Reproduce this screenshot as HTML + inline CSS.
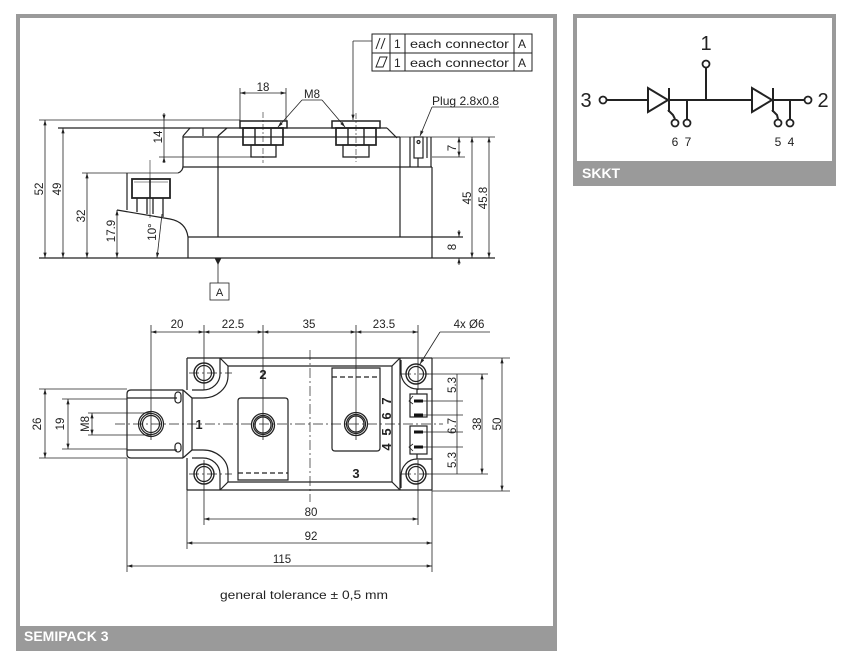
<!DOCTYPE html>
<html><head><meta charset="utf-8"><style>
html,body{margin:0;padding:0;background:#fff;}
svg{display:block;}
text{font-family:"Liberation Sans",Arial,sans-serif;fill:#222;}
</style></head><body>
<svg width="845" height="659" viewBox="0 0 845 659" xmlns="http://www.w3.org/2000/svg">
<defs>
<marker id="a" viewBox="0 0 10 6" refX="10" refY="3" markerWidth="6" markerHeight="3.2" orient="auto-start-reverse" markerUnits="userSpaceOnUse"><path d="M0,0 L10,3 L0,6z" fill="#222"/></marker>
</defs>
<rect x="0" y="0" width="845" height="659" fill="#fff"/>
<!-- panels -->
<rect x="18" y="16" width="537" height="633" fill="#fff" stroke="#9a9a9a" stroke-width="4"/>
<rect x="16" y="626" width="541" height="25" fill="#9a9a9a"/>
<text x="24" y="641" style="font-size:14px;font-weight:bold;fill:#fff">SEMIPACK 3</text>
<rect x="575" y="16" width="259" height="168" fill="#fff" stroke="#9a9a9a" stroke-width="4"/>
<rect x="573" y="161" width="263" height="25" fill="#9a9a9a"/>
<text x="582" y="178" style="font-size:14px;font-weight:bold;fill:#fff">SKKT</text>

<!-- SKKT circuit -->
<g stroke="#222" stroke-width="2" fill="none">
<line x1="607" y1="100" x2="804" y2="100"/>
<line x1="706" y1="68" x2="706" y2="100"/>
<polygon points="648,88 648,112 668,100" fill="#fff"/>
<line x1="669" y1="88" x2="669" y2="112"/>
<polyline points="668,110 673,115 675,119"/>
<line x1="687" y1="100" x2="687" y2="119"/>
<polygon points="752,88 752,112 772,100" fill="#fff"/>
<line x1="773" y1="88" x2="773" y2="112"/>
<polyline points="772,110 777,115 778,119"/>
<line x1="790" y1="100" x2="790" y2="119"/>
<g fill="#fff" stroke-width="1.8">
<circle cx="603" cy="100" r="3.5"/><circle cx="808" cy="100" r="3.5"/><circle cx="706" cy="64" r="3.5"/>
<circle cx="675" cy="123" r="3.5"/><circle cx="687" cy="123" r="3.5"/>
<circle cx="778" cy="123" r="3.5"/><circle cx="790" cy="123" r="3.5"/>
</g>
</g>
<g style="font-size:20px" text-anchor="middle">
<text x="706" y="50">1</text><text x="586" y="107">3</text><text x="823" y="107">2</text>
</g>
<g style="font-size:12px" text-anchor="middle">
<text x="675" y="146">6</text><text x="688" y="146">7</text><text x="778" y="146">5</text><text x="791" y="146">4</text>
</g>

<!-- ===== SIDE VIEW ===== -->
<g stroke="#222" stroke-width="1.2" fill="none">
<line x1="39" y1="120" x2="240" y2="120" stroke-width="0.8"/>
<line x1="58" y1="128" x2="387" y2="128"/>
<line x1="183" y1="136" x2="190" y2="128"/>
<line x1="218" y1="136" x2="227" y2="128"/>
<line x1="387" y1="128" x2="397" y2="138"/>
<line x1="203" y1="128" x2="203" y2="136"/>
<line x1="183" y1="137" x2="400" y2="137"/>
<line x1="400" y1="137" x2="495" y2="137" stroke-width="0.8"/>
<path d="M183,136 V166 Q183,171 178,173"/>
<line x1="82" y1="173" x2="178" y2="173" stroke-width="0.8"/>
<line x1="183" y1="167" x2="432" y2="167"/>
<line x1="218" y1="136" x2="218" y2="237"/>
<line x1="400" y1="137" x2="400" y2="237"/>
<line x1="432" y1="167" x2="432" y2="258"/>
<line x1="410" y1="137" x2="410" y2="167"/>
<line x1="427" y1="137" x2="427" y2="158"/>
<line x1="431" y1="137" x2="431" y2="167"/>
<rect x="414" y="137" width="9" height="21"/>
<circle cx="418.5" cy="142" r="1.5"/>
<line x1="418" y1="158" x2="418" y2="167"/>
<line x1="127" y1="173" x2="127" y2="210"/>
<path d="M117,210 L170,219 Q186,222 188,237 V258"/>
<line x1="188" y1="237" x2="463" y2="237"/>
<line x1="39" y1="258" x2="495" y2="258" stroke-width="1.3"/>
<rect x="132" y="179" width="38" height="19" stroke-width="1.8"/>
<line x1="150" y1="179" x2="150" y2="198" stroke-width="1.6"/>
<line x1="134" y1="182" x2="168" y2="182" stroke-width="0.6"/>
<line x1="137" y1="198" x2="137" y2="212" stroke-width="1.3"/>
<line x1="147" y1="198" x2="147" y2="214" stroke-width="1.3"/>
<line x1="153" y1="198" x2="153" y2="214" stroke-width="1.3"/>
<line x1="163" y1="198" x2="163" y2="217" stroke-width="1.3"/>
<line x1="150" y1="160" x2="150" y2="218" stroke-width="0.6"/>
<rect x="240" y="121" width="47" height="7" stroke-width="1.5"/>
<rect x="243" y="128" width="40" height="17" stroke-width="1.7"/>
<line x1="255" y1="128" x2="255" y2="145" stroke-width="1.4"/>
<line x1="271" y1="128" x2="271" y2="145" stroke-width="1.4"/>
<rect x="251" y="145" width="25" height="12" stroke-width="1.3"/>
<line x1="263" y1="112" x2="263" y2="163" stroke-width="0.6" stroke-dasharray="6,2,2,2"/>
<rect x="332" y="121" width="48" height="7" stroke-width="1.5"/>
<rect x="336" y="128" width="40" height="17" stroke-width="1.7"/>
<line x1="348" y1="128" x2="348" y2="145" stroke-width="1.4"/>
<line x1="364" y1="128" x2="364" y2="145" stroke-width="1.4"/>
<rect x="343" y="145" width="26" height="12" stroke-width="1.3"/>
<line x1="356" y1="113" x2="356" y2="162" stroke-width="0.6" stroke-dasharray="6,2,2,2"/>
<line x1="159" y1="157" x2="251" y2="157" stroke-width="0.8"/>
<line x1="164" y1="113" x2="164" y2="120" stroke-width="0.8" marker-end="url(#a)"/>
<line x1="164" y1="163" x2="164" y2="157" stroke-width="0.8" marker-end="url(#a)"/>
<line x1="164" y1="120" x2="164" y2="157" stroke-width="0.8"/>
</g>
<g stroke="#222" stroke-width="0.8" fill="none" marker-start="url(#a)" marker-end="url(#a)">
<line x1="45" y1="120" x2="45" y2="258"/>
<line x1="63" y1="128" x2="63" y2="258"/>
<line x1="87" y1="173" x2="87" y2="258"/>
<line x1="117" y1="210" x2="117" y2="258"/>
<line x1="240" y1="93" x2="286" y2="93"/>
<line x1="472" y1="137" x2="472" y2="258"/>
<line x1="489" y1="137" x2="489" y2="258"/>
<line x1="459" y1="137" x2="459" y2="157"/>
</g>
<g stroke="#222" stroke-width="0.8" fill="none">
<line x1="157" y1="258" x2="162" y2="214" marker-start="url(#a)"/>
<line x1="240" y1="88" x2="240" y2="121"/>
<line x1="286" y1="88" x2="286" y2="121"/>
<line x1="432" y1="157" x2="465" y2="157"/>
<line x1="459" y1="230" x2="459" y2="237" marker-end="url(#a)"/>
<line x1="459" y1="265" x2="459" y2="258" marker-end="url(#a)"/>
<line x1="302" y1="100" x2="278" y2="127" marker-end="url(#a)"/>
<line x1="302" y1="100" x2="322" y2="100"/>
<line x1="322" y1="100" x2="345" y2="127" marker-end="url(#a)"/>
<line x1="372" y1="41" x2="353" y2="41"/>
<line x1="353" y1="41" x2="353" y2="120" marker-end="url(#a)"/>
<line x1="432" y1="107" x2="499" y2="107"/>
<line x1="432" y1="107" x2="420" y2="136" marker-end="url(#a)"/>
<line x1="218" y1="264" x2="218" y2="283"/>
<rect x="210" y="283" width="19" height="17"/>
</g>
<polygon points="214.5,258 221.5,258 218,265" fill="#222"/>
<!-- FCF -->
<g stroke="#222" stroke-width="1" fill="none">
<rect x="372" y="34" width="160" height="37"/>
<line x1="372" y1="53" x2="532" y2="53"/>
<line x1="390" y1="34" x2="390" y2="71"/>
<line x1="405" y1="34" x2="405" y2="71"/>
<line x1="514" y1="34" x2="514" y2="71"/>
<line x1="376" y1="49" x2="380" y2="38"/>
<line x1="381" y1="49" x2="385" y2="38"/>
<polygon points="376,67 380,57 387,57 383,67"/>
</g>
<g style="font-size:12px">
<text x="394" y="48">1</text><text x="394" y="67">1</text>
<text x="410" y="48" textLength="99" lengthAdjust="spacingAndGlyphs">each connector</text>
<text x="410" y="67" textLength="99" lengthAdjust="spacingAndGlyphs">each connector</text>
<text x="518" y="48">A</text><text x="518" y="67">A</text>
<text x="432" y="105" textLength="67" lengthAdjust="spacingAndGlyphs">Plug 2.8x0.8</text>
<text x="219.5" y="296" text-anchor="middle" style="font-size:11px">A</text>
</g>
<g style="font-size:11.5px" text-anchor="middle">
<text x="263" y="91">18</text>
<text x="312" y="98">M8</text>
<text transform="translate(43,189) rotate(-90)">52</text>
<text transform="translate(61,189) rotate(-90)">49</text>
<text transform="translate(85,216) rotate(-90)">32</text>
<text transform="translate(115,231) rotate(-90)">17.9</text>
<text transform="translate(156,232) rotate(-90)">10°</text>
<text transform="translate(162,137) rotate(-90)">14</text>
<text transform="translate(456,148) rotate(-90)">7</text>
<text transform="translate(456,247) rotate(-90)">8</text>
<text transform="translate(471,198) rotate(-90)">45</text>
<text transform="translate(487,198) rotate(-90)">45.8</text>
</g>

<!-- ===== TOP VIEW ===== -->
<g stroke="#222" stroke-width="1.2" fill="none">
<line x1="187" y1="358" x2="432" y2="358"/>
<line x1="187" y1="490" x2="432" y2="490"/>
<line x1="187" y1="358" x2="187" y2="390"/>
<line x1="187" y1="458" x2="187" y2="490"/>
<line x1="432" y1="358" x2="432" y2="490"/>
<line x1="228" y1="366" x2="392" y2="366"/>
<line x1="228" y1="482" x2="392" y2="482"/>
<line x1="400" y1="358" x2="400" y2="490"/>
<line x1="392" y1="366" x2="392" y2="482"/>
<line x1="392" y1="366" x2="400" y2="358"/>
<line x1="392" y1="482" x2="400" y2="490"/>
<line x1="220" y1="358" x2="228" y2="366"/>
<line x1="220" y1="490" x2="228" y2="482"/>
<path d="M220,358 V374 A17,16 0 0 1 203,390 H192"/>
<path d="M228,366 V376 A25,22 0 0 1 203,398 H192"/>
<path d="M220,490 V474 A17,16 0 0 0 203,458 H192"/>
<path d="M228,482 V472 A25,22 0 0 0 203,450 H192"/>
<line x1="183" y1="390" x2="183" y2="458"/>
<line x1="192" y1="398" x2="192" y2="450"/>
<line x1="183" y1="390" x2="192" y2="398"/>
<line x1="183" y1="458" x2="192" y2="450"/>
<path d="M183,390 H131 Q127,390 127,394 V454 Q127,458 131,458 H183"/>
<line x1="127" y1="398" x2="177" y2="398" stroke-width="1.3"/>
<line x1="127" y1="450" x2="177" y2="450" stroke-width="1.3"/>
<rect x="175" y="392" width="6" height="11" rx="3"/>
<rect x="175" y="443" width="6" height="9" rx="3"/>
<circle cx="151" cy="424" r="12.5"/><circle cx="151" cy="424" r="10.5"/><circle cx="151" cy="424" r="8.5"/>
<path d="M401,360 V372 A16,17 0 0 0 417,389 H432"/>
<path d="M401,488 V476 A16,17 0 0 1 417,459 H432"/>
<line x1="417" y1="389" x2="417" y2="394"/>
<line x1="417" y1="454" x2="417" y2="459"/>
<rect x="410" y="394" width="17" height="23"/>
<rect x="410" y="426" width="17" height="28"/>
<polyline points="413,396 409,401 413,404" stroke-width="0.8"/>
<polyline points="413,444 409,447 413,451" stroke-width="0.8"/>
<circle cx="204" cy="373" r="10" stroke-width="1.4"/><circle cx="204" cy="373" r="7.5"/>
<circle cx="204" cy="474" r="10" stroke-width="1.4"/><circle cx="204" cy="474" r="7.5"/>
<circle cx="416" cy="374" r="10" stroke-width="1.4"/><circle cx="416" cy="374" r="7.5"/>
<circle cx="416" cy="474" r="10" stroke-width="1.4"/><circle cx="416" cy="474" r="7.5"/>
<path d="M238,480 V401 Q238,398 241,398 H285 Q288,398 288,401 V480 Z"/>
<line x1="238" y1="473" x2="288" y2="473" stroke-dasharray="5,3"/>
<circle cx="263" cy="425" r="11.5" stroke-width="1.3"/><circle cx="263" cy="425" r="9.5"/><circle cx="263" cy="425" r="8"/>
<path d="M332,368 V448 Q332,451 335,451 H377 Q380,451 380,448 V368 Z"/>
<line x1="332" y1="377" x2="380" y2="377" stroke-dasharray="5,3"/>
<circle cx="356" cy="424" r="11.5" stroke-width="1.3"/><circle cx="356" cy="424" r="9.5"/><circle cx="356" cy="424" r="8"/>
</g>
<g stroke="#111" stroke-width="3">
<line x1="414" y1="401" x2="423" y2="401"/><line x1="414" y1="415" x2="423" y2="415"/>
<line x1="414" y1="432" x2="423" y2="432"/><line x1="414" y1="447" x2="423" y2="447"/>
</g>
<g stroke="#222" stroke-width="0.7" fill="none" stroke-dasharray="10,3,2,3">
<line x1="115" y1="424" x2="443" y2="424"/>
<line x1="310" y1="350" x2="310" y2="502"/>
<line x1="189" y1="373" x2="232" y2="373"/>
<line x1="189" y1="474" x2="232" y2="474"/>
<line x1="401" y1="374" x2="432" y2="374"/>
<line x1="401" y1="474" x2="432" y2="474"/>
</g>
<g stroke="#222" stroke-width="0.8" fill="none">
<line x1="151" y1="325" x2="151" y2="440"/>
<line x1="204" y1="325" x2="204" y2="390"/>
<line x1="204" y1="460" x2="204" y2="525"/>
<line x1="263" y1="325" x2="263" y2="440"/>
<line x1="356" y1="325" x2="356" y2="440"/>
<line x1="418" y1="325" x2="418" y2="390"/>
<line x1="418" y1="460" x2="418" y2="525"/>
<line x1="127" y1="458" x2="127" y2="572"/>
<line x1="187" y1="490" x2="187" y2="549"/>
<line x1="432" y1="490" x2="432" y2="572"/>
<line x1="39" y1="389" x2="127" y2="389"/>
<line x1="39" y1="458" x2="127" y2="458"/>
<line x1="62" y1="399" x2="127" y2="399"/>
<line x1="62" y1="449" x2="127" y2="449"/>
<line x1="88" y1="413" x2="151" y2="413"/>
<line x1="88" y1="435" x2="151" y2="435"/>
<line x1="432" y1="358" x2="510" y2="358"/>
<line x1="432" y1="491" x2="510" y2="491"/>
<line x1="426" y1="374" x2="488" y2="374"/>
<line x1="426" y1="474" x2="488" y2="474"/>
<line x1="423" y1="401" x2="463" y2="401"/>
<line x1="423" y1="415" x2="463" y2="415"/>
<line x1="423" y1="432" x2="463" y2="432"/>
<line x1="423" y1="447" x2="463" y2="447"/>
<line x1="457" y1="374" x2="457" y2="474"/>
<line x1="440" y1="332" x2="490" y2="332"/>
<line x1="440" y1="332" x2="420" y2="364" marker-end="url(#a)"/>
</g>
<g stroke="#222" stroke-width="0.8" fill="none" marker-start="url(#a)" marker-end="url(#a)">
<line x1="151" y1="332" x2="204" y2="332"/>
<line x1="204" y1="332" x2="263" y2="332"/>
<line x1="263" y1="332" x2="356" y2="332"/>
<line x1="356" y1="332" x2="418" y2="332"/>
<line x1="45" y1="389" x2="45" y2="458"/>
<line x1="68" y1="399" x2="68" y2="449"/>
<line x1="92" y1="413" x2="92" y2="435"/>
<line x1="482" y1="374" x2="482" y2="474"/>
<line x1="502" y1="358" x2="502" y2="491"/>
<line x1="204" y1="519" x2="418" y2="519"/>
<line x1="187" y1="543" x2="432" y2="543"/>
<line x1="127" y1="566" x2="432" y2="566"/>
</g>
<g style="font-size:11.5px" text-anchor="middle">
<text x="177" y="328">20</text>
<text x="233" y="328">22.5</text>
<text x="309" y="328">35</text>
<text x="384" y="328">23.5</text>
<text x="469" y="328">4x Ø6</text>
<text transform="translate(41,424) rotate(-90)">26</text>
<text transform="translate(64,424) rotate(-90)">19</text>
<text transform="translate(89,424) rotate(-90)">M8</text>
<text transform="translate(456,385) rotate(-90)">5.3</text>
<text transform="translate(456,426) rotate(-90)">6.7</text>
<text transform="translate(456,460) rotate(-90)">5.3</text>
<text transform="translate(481,424) rotate(-90)">38</text>
<text transform="translate(501,424) rotate(-90)">50</text>
<text x="311" y="516">80</text>
<text x="311" y="540">92</text>
<text x="282" y="563">115</text>
<text x="304" y="599" style="font-size:12px" textLength="168" lengthAdjust="spacingAndGlyphs">general tolerance ± 0,5 mm</text>
</g>
<g style="font-size:13px;font-weight:bold" text-anchor="middle">
<text x="199" y="429">1</text>
<text x="263" y="379">2</text>
<text x="356" y="478">3</text>
<text transform="translate(391,447) rotate(-90)">4</text>
<text transform="translate(391,432) rotate(-90)">5</text>
<text transform="translate(391,416) rotate(-90)">6</text>
<text transform="translate(391,401) rotate(-90)">7</text>
</g>
</svg>
</body></html>
